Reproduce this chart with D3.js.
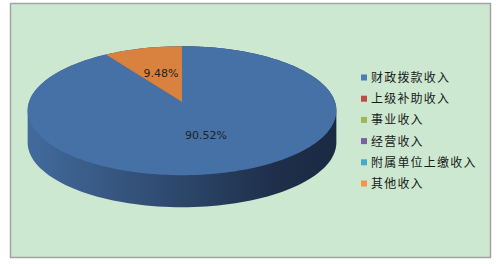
<!DOCTYPE html>
<html>
<head>
<meta charset="utf-8">
<script src="https://cdn.jsdelivr.net/npm/d3@7"></script>
<style>
  html, body { margin: 0; padding: 0; background: #fff; }
  svg { display: block; }
  .legend text { font-family: "Noto Sans CJK SC", sans-serif; font-size: 12px; fill: #1a1a1a; letter-spacing: 1.2px; }
  .lbl { font-family: "DejaVu Sans", sans-serif; font-size: 11px; fill: #222; }
</style>
</head>
<body>
<svg id="chart"></svg>
<script>
// ---------- Data ----------
const categories = ["财政拨款收入", "上级补助收入", "事业收入", "经营收入", "附属单位上缴收入", "其他收入"];
const shares     = [90.52, 0, 0, 0, 0, 9.48];
const legendColors = ["#4a7ebb", "#be4b48", "#98b954", "#7d60a0", "#46aac5", "#f59446"];
const topColors    = ["#4571a7", "#be4b48", "#98b954", "#7d60a0", "#46aac5", "#d9823f"];

// ---------- Layout ----------
const W = 500, H = 264;
const svg = d3.select("#chart").attr("width", W).attr("height", H);

svg.append("rect").attr("x", 10.5).attr("y", 3.5).attr("width", 480).attr("height", 254)
  .attr("fill", "#cde8d0").attr("stroke", "#a3a3a3").attr("stroke-width", 1.5);

// pie geometry (3D with a bit of perspective)
const cx = 182, cy = 102, rx = 153, ry = 64.5, persp = 0.135, depth = 32;
function proj(a, r, dy = 0) {
  const x = Math.sin(a) * r, y = -Math.cos(a) * r;
  const s = 1 + persp * y;
  return [cx + rx * x * s, cy + ry * y * s + dy];
}

const pie = d3.pie().sort(null).value(d => d)(shares);

// side wall: hull of top and bottom outlines
const defs = svg.append("defs");
const grad = defs.append("linearGradient").attr("id", "side")
  .attr("x1", "0%").attr("x2", "100%").attr("y1", "0%").attr("y2", "0%");
[["0%", "#426b9c"], ["45%", "#2f4a70"], ["80%", "#1e2f4a"], ["100%", "#1b2a43"]]
  .forEach(([o, c]) => grad.append("stop").attr("offset", o).attr("stop-color", c));

const ring = d3.range(0, 360, 2).map(deg => deg * Math.PI / 180);
const hull = d3.polygonHull(ring.map(a => proj(a, 1)).concat(ring.map(a => proj(a, 1, depth))));
svg.append("path").attr("d", "M" + hull.join("L") + "Z").attr("fill", "url(#side)");

// top face slices
const line = d3.line();
pie.forEach((p, i) => {
  if (p.endAngle - p.startAngle <= 0) return;
  const n = Math.max(2, Math.ceil((p.endAngle - p.startAngle) / 0.02));
  const pts = [proj(0, 0)].concat(d3.range(n + 1).map(k => proj(p.startAngle + (p.endAngle - p.startAngle) * k / n, 1)));
  svg.append("path").attr("d", line(pts) + "Z").attr("fill", topColors[i]);
});

// data labels
pie.forEach((p, i) => {
  if (p.value <= 0) return;
  const [lx, ly] = proj((p.startAngle + p.endAngle) / 2, 0.5);
  svg.append("text").attr("class", "lbl").attr("x", lx).attr("y", ly + 4)
    .attr("text-anchor", "middle").text(d3.format(".2f")(p.value) + "%");
});

// ---------- Legend ----------
const rowY = d3.scalePoint().domain(categories).range([77.5, 183.5]);
const lg = svg.append("g").attr("class", "legend");
categories.forEach((c, i) => {
  lg.append("rect").attr("x", 361).attr("y", rowY(c) - 3).attr("width", 6).attr("height", 6).attr("fill", legendColors[i]);
  lg.append("text").attr("x", 371).attr("y", rowY(c) + 4.5).text(c);
});
</script>
</body>
</html>
